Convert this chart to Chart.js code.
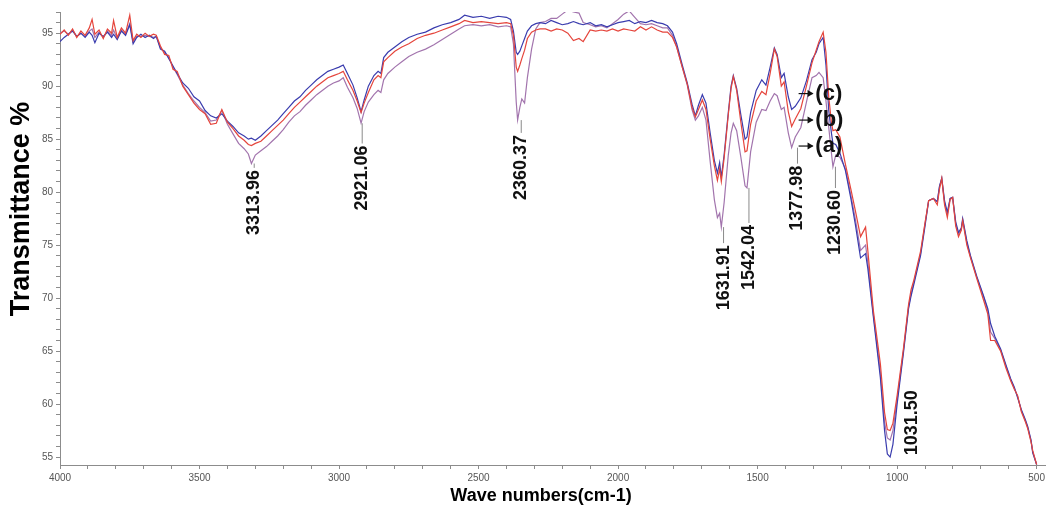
<!DOCTYPE html>
<html lang="en">
<head>
  <meta charset="UTF-8" />
  <title>FTIR spectra</title>
  <script src="https://cdn.jsdelivr.net/npm/chart.js"></script>
  <style>
    html, body { margin: 0; background: #fff; }
    #wrap { width: 1053px; height: 506px; position: relative; }
  </style>
</head>
<body>
  <div id="wrap"><canvas id="irChart"></canvas></div>

  <script>
    // wave numbers (cm-1), shared by the three spectra
    const waveNumbers = [
      4000,3985,3970,3955,3940,3925,3910,3895,3885,3875,3860,3845,3830,3815,3808,3795,3780,3765,3750,3738,
      3725,3710,3695,3680,3665,3655,3640,3625,3610,3595,3580,3560,3540,3520,3500,3480,3460,3440,3420,3400,
      3380,3360,3340,3325,3314,3300,3280,3260,3240,3220,3200,3180,3160,3140,3120,3100,3080,3060,3040,3020,
      3000,2985,2970,2950,2935,2921,2910,2895,2875,2860,2850,2840,2825,2800,2775,2750,2720,2690,2660,2630,
      2600,2570,2550,2520,2490,2460,2430,2400,2385,2375,2365,2360,2352,2345,2335,2325,2310,2295,2280,2260,
      2240,2220,2200,2180,2160,2140,2125,2100,2080,2060,2040,2020,2000,1980,1960,1940,1920,1900,1880,1860,
      1840,1823,1805,1790,1770,1752,1735,1723,1712,1698,1685,1670,1655,1644,1636,1630,1620,1605,1595,1587,
      1575,1560,1545,1538,1525,1505,1485,1470,1455,1440,1430,1415,1405,1390,1378,1365,1345,1325,1305,1290,
      1280,1265,1255,1245,1235,1230,1220,1205,1185,1165,1150,1131,1113,1105,1085,1060,1045,1035,1025,1015,
      1000,977,959,950,940,916,900,887,870,856,848,840,830,820,810,801,790,780,770,765,
      750,737,715,690,675,665,650,629,610,593,580,568,555,540,532,520,514,500
    ];

    // (a) purple
    const curveA = [
      95.0,95.2,94.9,95.3,94.7,95.0,94.7,95.2,95.4,94.6,95.1,94.6,95.2,94.8,95.3,94.5,95.3,94.9,95.9,94.2,
      94.7,94.7,94.8,94.7,94.6,94.7,93.6,93.2,92.7,91.8,91.1,90.1,89.3,88.6,88.0,87.5,86.7,86.8,87.7,86.4,
      85.5,84.6,84.1,83.6,82.7,83.5,83.9,84.3,84.8,85.3,85.9,86.6,87.2,87.6,88.2,88.7,89.2,89.6,90.0,90.3,
      90.5,90.8,89.9,88.9,87.9,86.5,87.6,88.5,89.2,89.6,89.4,90.6,91.2,91.8,92.3,92.8,93.2,93.5,93.9,94.4,
      94.9,95.4,95.7,95.8,95.7,95.8,95.6,95.7,95.6,94.0,88.5,86.8,88.0,88.8,88.4,90.8,93.5,95.4,96.0,96.1,
      96.4,96.4,96.8,97.2,97.0,96.9,96.0,95.8,95.6,95.7,95.5,95.9,96.3,96.8,97.1,96.5,95.9,95.8,95.9,95.7,
      95.5,95.5,94.8,93.7,91.8,90.1,87.8,86.8,87.2,88.0,86.8,82.9,79.3,77.6,78.0,76.7,79.0,83.5,85.6,86.5,
      85.8,83.3,80.6,80.4,83.8,86.6,87.8,87.7,88.6,89.3,89.1,87.8,88.0,85.6,84.2,85.2,86.1,88.5,90.8,91.0,
      91.3,90.8,88.6,86.1,83.6,82.4,83.5,83.3,82.2,79.6,77.5,74.5,75.0,73.4,68.4,63.0,58.3,56.8,56.6,57.5,
      60.4,65.1,69.2,70.4,71.5,74.2,77.0,79.2,79.4,79.1,80.5,81.3,79.0,77.9,79.4,79.5,77.0,76.0,76.5,77.4,
      75.2,73.9,72.0,70.1,68.8,66.8,66.2,65.1,63.6,62.3,61.5,60.7,59.4,58.4,57.8,56.5,55.5,54.3
    ];

    // (b) red
    const curveB = [
      94.9,95.3,94.8,95.4,94.6,95.2,94.8,95.5,96.3,94.9,95.3,94.5,95.4,95.0,96.2,94.6,95.5,95.0,96.7,94.3,
      94.9,94.6,95.0,94.7,94.9,94.8,93.8,93.0,92.9,91.6,91.4,90.0,89.2,88.4,87.8,87.4,86.4,86.5,87.8,86.6,
      86.0,85.3,84.9,84.5,84.4,84.6,84.8,85.3,85.8,86.3,86.8,87.4,88.0,88.5,89.0,89.5,90.0,90.4,90.8,91.0,
      91.2,91.4,90.6,89.6,88.6,87.5,88.4,89.4,90.6,91.0,90.8,92.3,92.7,93.3,93.7,94.0,94.5,94.8,95.0,95.3,
      95.6,95.9,96.2,96.0,96.1,96.0,95.9,96.0,95.9,94.8,91.8,91.4,92.0,92.6,93.4,94.5,95.1,95.3,95.4,95.4,
      95.2,95.4,95.3,95.0,94.3,94.5,94.2,95.3,95.2,95.3,95.2,95.4,95.2,95.4,95.3,95.2,95.6,95.3,95.6,95.3,
      95.1,95.1,94.6,93.7,91.8,90.2,88.0,87.1,87.8,88.7,87.8,85.0,82.5,81.1,82.2,81.0,83.2,87.3,89.8,90.9,
      89.6,86.6,83.8,83.9,86.4,88.6,89.5,89.2,91.2,93.5,92.8,90.0,90.4,87.6,86.2,86.9,87.9,90.0,92.2,93.4,
      94.2,95.1,93.2,89.0,86.5,85.8,85.9,85.2,82.6,80.2,78.3,75.8,76.7,74.5,68.8,63.8,59.2,57.6,57.5,58.2,
      60.8,65.3,69.4,70.8,71.7,74.4,77.1,79.2,79.4,78.8,80.3,81.3,78.8,77.6,79.3,79.5,76.8,75.8,76.4,77.3,
      75.0,73.8,71.9,69.8,68.5,66.0,66.0,65.0,63.4,62.2,61.4,60.8,59.3,58.3,57.7,56.4,55.6,54.3
    ];

    // (c) blue
    const curveC = [
      94.2,94.6,94.9,95.2,94.7,95.0,94.6,95.1,94.8,94.1,95.0,94.7,95.1,94.6,94.9,94.4,95.2,94.8,95.8,94.0,
      94.6,94.9,94.6,94.8,94.5,94.7,93.5,93.3,92.6,91.9,91.2,90.3,89.8,89.0,88.6,87.7,87.2,87.0,87.4,86.7,
      86.2,85.6,85.3,85.0,85.1,84.9,85.3,85.8,86.3,86.8,87.4,88.0,88.6,89.0,89.6,90.1,90.6,91.0,91.4,91.6,
      91.8,92.0,91.2,90.1,88.9,87.6,88.7,90.0,91.0,91.4,91.2,92.7,93.2,93.7,94.2,94.6,94.9,95.1,95.5,95.8,
      96.0,96.3,96.7,96.5,96.6,96.4,96.6,96.5,96.3,95.2,93.2,93.0,93.3,93.8,94.5,95.2,95.7,95.9,96.0,95.9,
      96.2,96.0,95.8,95.9,96.1,95.9,95.8,96.0,95.7,95.8,95.6,95.8,96.0,96.1,96.2,95.9,96.1,96.0,96.2,96.0,
      95.9,95.7,95.1,94.0,92.0,90.3,88.3,87.2,88.2,89.2,88.4,85.6,83.0,81.8,82.8,81.4,83.5,87.5,90.0,91.0,
      89.8,87.3,85.0,85.2,87.5,89.6,90.6,90.1,91.8,93.6,93.0,90.8,91.2,89.0,87.8,88.1,88.9,90.5,92.5,93.2,
      94.0,94.6,92.0,87.7,85.5,84.6,84.5,83.7,82.0,79.3,77.0,73.8,74.2,72.8,68.2,62.5,57.5,55.3,55.0,56.2,
      60.0,64.9,69.0,70.2,71.3,74.0,76.8,79.2,79.4,79.1,80.6,81.3,79.2,78.1,79.4,79.5,77.2,76.2,76.6,77.5,
      75.4,74.0,72.1,70.2,69.0,67.6,66.4,65.2,63.7,62.4,61.6,60.6,59.5,58.5,57.9,56.6,55.4,54.3
    ];

    // peak annotations: text, wave number of the label, top of the text and start of the drop line (in %T)
    const peakNames = ['3313.96', '2921.06', '2360.37', '1631.91', '1542.04', '1377.98', '1230.60', '1031.50'];
    const peakWaves = [3304, 2917, 2347, 1622, 1531, 1357, 1221, 948];
    const peakTops  = [82.1, 84.4, 85.4, 75.0, 76.9, 82.5, 80.2, 61.3];
    const peakFrom  = [82.7, 86.5, 86.8, 76.7, 80.4, 84.2, 82.4, 61.3];

    // sample markers (c) (b) (a)
    const sampleNames = ['(c)', '(b)', '(a)'];
    const sampleLevels = [89.3, 86.8, 84.35];

    const toPoints = ys => waveNumbers.map((w, i) => ({ x: w, y: ys[i] }));
    const FONT = '"Liberation Sans", Arial, sans-serif';

    const notesPlugin = {
      id: 'notes',
      afterDraw(chart) {
        const { ctx, chartArea, scales: { x, y } } = chart;
        ctx.save();
        ctx.fillStyle = '#111';

        // peak labels, rotated
        ctx.font = 'bold 18px ' + FONT;
        peakNames.forEach((name, i) => {
          const px = x.getPixelForValue(peakWaves[i]);
          const top = y.getPixelForValue(peakTops[i]);
          const from = y.getPixelForValue(peakFrom[i]);
          if (from < top - 1) {
            ctx.strokeStyle = '#8a8a8a';
            ctx.lineWidth = 1;
            ctx.beginPath();
            ctx.moveTo(px, from);
            ctx.lineTo(px, top - 2);
            ctx.stroke();
          }
          ctx.save();
          ctx.translate(px, top);
          ctx.rotate(-Math.PI / 2);
          ctx.textAlign = 'right';
          ctx.textBaseline = 'middle';
          ctx.fillText(name, 0, 0);
          ctx.restore();
        });

        // (c) (b) (a) with arrows
        ctx.font = 'bold 22px ' + FONT;
        ctx.textAlign = 'left';
        ctx.textBaseline = 'middle';
        ctx.strokeStyle = '#111';
        ctx.lineWidth = 1.2;
        const x0 = x.getPixelForValue(1353);
        const x1 = x.getPixelForValue(1303);
        const tx = x.getPixelForValue(1293);
        sampleNames.forEach((s, i) => {
          const py = y.getPixelForValue(sampleLevels[i]);
          ctx.beginPath();
          ctx.moveTo(x0, py);
          ctx.lineTo(x1, py);
          ctx.stroke();
          ctx.beginPath();
          ctx.moveTo(x1 + 1, py);
          ctx.lineTo(x1 - 5, py - 3.5);
          ctx.lineTo(x1 - 5, py + 3.5);
          ctx.closePath();
          ctx.fill();
          ctx.fillText(s, tx, py);
        });

        // axis titles
        ctx.fillStyle = '#000';
        ctx.textAlign = 'center';
        ctx.font = 'bold 18px ' + FONT;
        ctx.fillText('Wave numbers(cm-1)', chartArea.left + 481, chart.height - 10);
        ctx.save();
        ctx.translate(22, chartArea.top + 197);
        ctx.rotate(-Math.PI / 2);
        ctx.font = 'bold 27px ' + FONT;
        ctx.fillText('Transmittance %', 0, 0);
        ctx.restore();

        ctx.restore();
      }
    };

    const tickFont = { family: FONT, size: 10 };

    new Chart(document.getElementById('irChart'), {
      type: 'line',
      data: {
        datasets: [
          { label: '(b)', data: toPoints(curveB), borderColor: '#e5453c' },
          { label: '(c)', data: toPoints(curveC), borderColor: '#3a3cae' },
          { label: '(a)', data: toPoints(curveA), borderColor: '#a274ad' }
        ]
      },
      options: {
        responsive: true,
        maintainAspectRatio: false,
        animation: false,
        layout: { padding: { top: 12, right: 8, left: 0, bottom: 0 } },
        elements: {
          point: { radius: 0 },
          line: { borderWidth: 1.2, tension: 0 }
        },
        plugins: {
          legend: { display: false },
          tooltip: { enabled: false }
        },
        scales: {
          x: {
            type: 'linear',
            reverse: true,
            min: 470,
            max: 4000,
            afterFit: s => { s.height = 41; },
            border: { color: '#8c8c8c' },
            grid: { drawOnChartArea: false, tickLength: 4, color: '#8c8c8c' },
            ticks: {
              stepSize: 100,
              includeBounds: false,
              autoSkip: false,
              maxRotation: 0,
              color: '#555',
              font: tickFont,
              callback: v => (v % 500 === 0 ? v : '')
            }
          },
          y: {
            min: 54.25,
            max: 97,
            afterFit: s => { s.width = 60; },
            border: { color: '#8c8c8c' },
            grid: { drawOnChartArea: false, tickLength: 4, color: '#8c8c8c' },
            ticks: {
              stepSize: 1,
              includeBounds: false,
              autoSkip: false,
              color: '#555',
              font: tickFont,
              callback: v => (v % 5 === 0 ? v : '')
            }
          }
        }
      },
      plugins: [notesPlugin]
    });
  </script>
</body>
</html>
